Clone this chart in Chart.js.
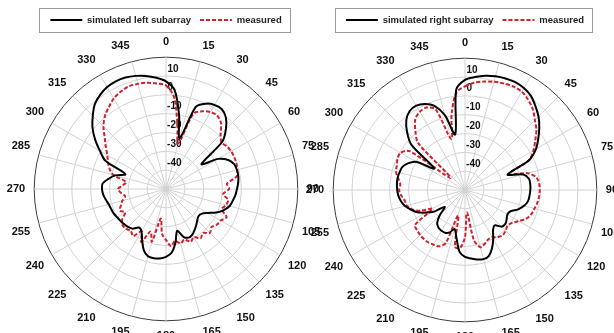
<!DOCTYPE html>
<html>
<head>
<meta charset="utf-8">
<script src="https://cdn.jsdelivr.net/npm/chart.js@4.4.1/dist/chart.umd.min.js"></script>
<style>
  html, body { margin: 0; padding: 0; background: #fff; overflow: hidden; width: 614px; height: 333px; }
  #wrap { position: relative; width: 614px; height: 333px; overflow: hidden; }
  canvas { position: absolute; top: 0; }
  #left { left: -12px; }
  #right { left: 287px; }
</style>
</head>
<body>
<div id="wrap">
  <canvas id="left" width="356" height="343"></canvas>
  <canvas id="right" width="356" height="344"></canvas>
</div>
<script>
// Azimuth samples in degrees (clockwise from the top)
const angles = [0,5,10,15,20,25,30,35,40,45,50,55,60,65,70,75,80,85,90,95,100,105,110,115,
  120,125,130,135,140,145,150,155,160,165,170,175,180,185,190,195,200,205,210,215,220,225,230,235,
  240,245,250,255,260,265,270,275,280,285,290,295,300,305,310,315,320,325,330,335,340,345,350,355];

// Angles that carry a label and a spoke
const angleTicks = [0,15,30,45,60,75,90,105,120,135,150,165,180,195,210,225,240,255,270,285,300,315,330,345];

// Labelled radial rings (dB)
const ringLabels = [10, 0, -10, -20, -30, -40];

// Left subarray pattern (dB)
const simLeft = [
  -2.8, -7.3, -20, -32, -13.5, -10, -8.5, -8.3, -10.5, -15, -21, -37,
  -28, -23.5, -21.5, -21, -21, -21.5, -22.3, -23, -24, -25, -27.3, -30.5,
  -34.5, -37, -37.5, -36.5, -35, -33.5, -32, -31.5, -33, -37, -31, -26,
  -24, -23, -22.7, -23, -25.5, -30, -34, -35, -32.5, -31.5, -31, -30.5,
  -30, -29.3, -29, -28.5, -27.5, -26.5, -26, -26.2, -29, -32, -37, -24.5,
  -19.5, -14, -9, -5, -1.2, 1, 2.5, 3.1, 3, 2.2, 1, -0.7
];
const measLeft = [
  -5, -11, -25, -35, -17.5, -14.5, -12.8, -12.5, -14.5, -19, -21.5, -20.5,
  -20, -20, -20.2, -20.8, -22, -27.5, -26.5, -29.5, -26.5, -27, -28.5, -24.5,
  -26.5, -27, -28.5, -27, -29.5, -28, -30.5, -29, -31.5, -30, -32, -29.5,
  -33, -36, -44, -31, -36, -29, -34, -29.5, -31, -30, -30, -31.5,
  -35, -33, -34.5, -36, -38, -36, -34.5, -37, -38.5, -31, -28, -26,
  -24, -21, -17.5, -13, -9.5, -7, -4.5, -3, -2, -2.2, -2.7, -3.8
];

// Right subarray pattern (dB)
const simRight = [
  -1.5, 0.2, 1.6, 2.5, 3, 3.2, 2.5, 1, -1.8, -4.8, -8.5, -12.5,
  -16.5, -22.5, -36, -28, -25.5, -25.2, -25.3, -25.6, -26, -27.5, -30, -33.3,
  -34, -33, -32, -32.5, -35.5, -34, -30, -26, -22.8, -22, -22.5, -23.5,
  -24.5, -27, -34, -38.5, -36, -35, -35, -35.5, -37, -41, -46, -40,
  -36, -32, -29.5, -27, -25.5, -24.5, -24, -23.7, -23.6, -24, -24.5, -26.5,
  -30, -40, -23, -16.5, -11.5, -8.8, -8.3, -9.6, -12.5, -19, -30, -6.5
];
const measRight = [
  -5, -2.8, -1.5, -0.5, 0.2, 0.7, 0.3, -1.5, -4, -7.5, -10.5, -14.5,
  -18, -22.5, -35, -25.5, -21.5, -20.5, -20.3, -20.5, -21, -21.8, -22.5, -24,
  -27, -29.5, -30.5, -29.5, -28.7, -29.5, -31, -31, -29.5, -28.5, -33, -48,
  -35, -29, -29.5, -46, -30, -27, -26.5, -26, -26, -26.3, -26.8, -27.5,
  -40, -34, -30, -28, -27.5, -26, -25, -25.5, -24, -22, -21.5, -20.5,
  -20.5, -24, -50, -25, -19, -14, -12, -11.7, -14.5, -32, -19, -8
];

Chart.defaults.font.family = "'Liberation Sans', Arial, Helvetica, sans-serif";

// Thin frame around the legend row
const legendFrame = {
  id: 'legendFrame',
  afterDraw(chart) {
    const boxes = chart.legend && chart.legend.legendHitBoxes;
    if (!boxes || !boxes.length) return;
    const first = boxes[0];
    const last = boxes[boxes.length - 1];
    const x0 = Math.round(first.left - 11) + 0.5;
    const x1 = Math.round(last.left + last.width + 8) + 0.5;
    const y0 = Math.round(first.top - 7) + 0.5;
    const ctx = chart.ctx;
    ctx.save();
    ctx.strokeStyle = '#9a9a9a';
    ctx.lineWidth = 1;
    ctx.strokeRect(x0, y0, x1 - x0, 24);
    ctx.restore();
  }
};

// Ring labels sit just inside their ring, to the right of the 0° spoke
function ringLabel(v) {
  const s = String(v);
  const w = s.replace('-', '').length * 5.56 + (v < 0 ? 3.33 : 0);
  return ['', ' '.repeat(Math.round((w + 2) / 2.78)) + s];
}

function polarChart(id, simName, sim, meas, spacer) {
  return new Chart(document.getElementById(id), {
    type: 'radar',
    data: {
      labels: angles,
      datasets: [
        { label: simName, data: sim, borderColor: '#000000', borderWidth: 2,
          fill: false, pointRadius: 0, tension: 0.3 },
        { label: 'measured', data: meas, borderColor: '#d0202a', borderWidth: 2,
          borderDash: [4, 2], fill: false, pointRadius: 0, tension: 0.3 }
      ]
    },
    options: {
      responsive: false,
      animation: false,
      events: [],
      layout: { padding: { top: 6.25, left: 0, right: 0, bottom: 0 } },
      plugins: {
        legend: {
          position: 'top',
          labels: {
            usePointStyle: true,
            pointStyle: 'line',
            pointStyleWidth: 32,
            padding: 9,
            color: '#222',
            font: { size: 9.5, weight: 'bold' },
            generateLabels(chart) {
              const items = Chart.defaults.plugins.legend.labels.generateLabels(chart);
              items.forEach((it) => {
                const ds = chart.data.datasets[it.datasetIndex];
                it.lineDash = ds.borderDash || [];
                it.strokeStyle = ds.borderColor;
                it.lineWidth = ds.borderWidth;
              });
              return items;
            }
          }
        },
        // empty spacer between the legend and the polar grid
        title: { display: true, text: '', weight: 500, padding: 0,
                 font: { size: 1, lineHeight: spacer } },
        tooltip: { enabled: false }
      },
      scales: {
        r: {
          min: -60,
          max: 10,
          ticks: {
            stepSize: 10,
            showLabelBackdrop: false,
            color: '#111',
            font: { size: 10, weight: 'bold', lineHeight: 1.17 },
            callback: (v) => ringLabels.includes(v) ? ringLabel(v) : ''
          },
          grid: {
            circular: true,
            color: (c) => (c.tick && c.tick.value === 10) ? '#3c3c3c' : '#d2d2d2',
            lineWidth: 1
          },
          angleLines: {
            color: '#d2d2d2',
            lineWidth: (c) => angleTicks.includes(angles[c.index]) ? 1 : 0
          },
          pointLabels: {
            padding: 2,
            color: '#111',
            font: { size: 11, weight: 'bold' },
            callback: (label) => angleTicks.includes(label) ? String(label) : ''
          }
        }
      }
    },
    plugins: [legendFrame]
  });
}

polarChart('left', 'simulated left subarray', simLeft, measLeft, 0.25);
polarChart('right', 'simulated right subarray', simRight, measRight, 1.25);
</script>
</body>
</html>
